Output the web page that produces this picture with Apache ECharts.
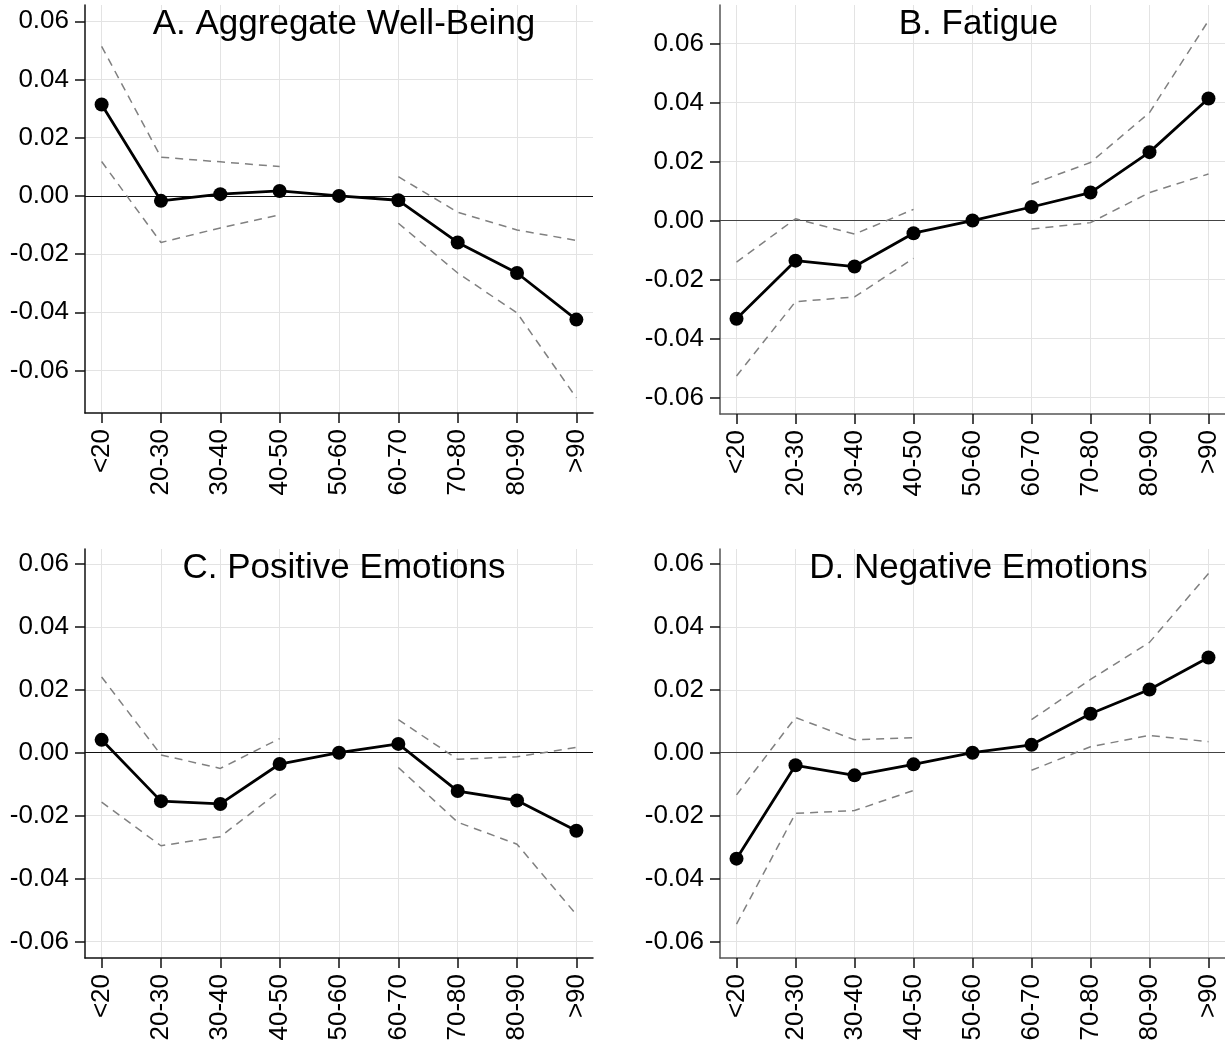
<!DOCTYPE html>
<html>
<head>
<meta charset="utf-8">
<script src="https://cdn.jsdelivr.net/npm/echarts@6/dist/echarts.min.js"></script>
<style>
  html, body { margin: 0; padding: 0; background: #fff; }
  #chart { width: 1225px; height: 1044px; }
</style>
</head>
<body>
<div id="chart"></div>
<script>
// Age groups on the horizontal axis (50-60 is the reference group)
const ageGroups = ['<20', '20-30', '30-40', '40-50', '50-60', '60-70', '70-80', '80-90', '>90'];
const yTicks = [-0.06, -0.04, -0.02, 0.00, 0.02, 0.04, 0.06];

// Panel titles
const panelTitles = ['A. Aggregate Well-Being', 'B. Fatigue', 'C. Positive Emotions', 'D. Negative Emotions'];

// A. Aggregate well-being: estimate, upper and lower confidence bounds
const wellBeingEst = [0.0314, -0.0017, 0.0006, 0.0017, 0, -0.0015, -0.0160, -0.0265, -0.0425];
const wellBeingHi  = [0.0514, 0.0133, 0.0117, 0.0101, null, 0.0066, -0.0056, -0.0117, -0.0153];
const wellBeingLo  = [0.0118, -0.0160, -0.0110, -0.0065, null, -0.0094, -0.0265, -0.0402, -0.0694];

// B. Fatigue
const fatigueEst = [-0.0333, -0.0136, -0.0156, -0.0043, 0, 0.0046, 0.0095, 0.0232, 0.0414];
const fatigueHi  = [-0.0141, 0.0006, -0.0046, 0.0038, null, 0.0123, 0.0197, 0.0366, 0.0678];
const fatigueLo  = [-0.0527, -0.0275, -0.0259, -0.0128, null, -0.0029, -0.0007, 0.0095, 0.0158];

// C. Positive emotions
const positiveEst = [0.0041, -0.0154, -0.0163, -0.0036, 0, 0.0028, -0.0122, -0.0152, -0.0248];
const positiveHi  = [0.0241, -0.0007, -0.0050, 0.0045, null, 0.0105, -0.0021, -0.0013, 0.0017];
const positiveLo  = [-0.0157, -0.0296, -0.0267, -0.0122, null, -0.0047, -0.0221, -0.0291, -0.0515];

// D. Negative emotions
const negativeEst = [-0.0337, -0.0040, -0.0072, -0.0037, 0, 0.0025, 0.0124, 0.0201, 0.0303];
const negativeHi  = [-0.0134, 0.0112, 0.0041, 0.0048, null, 0.0105, 0.0233, 0.0351, 0.0570];
const negativeLo  = [-0.0545, -0.0193, -0.0184, -0.0120, null, -0.0056, 0.0019, 0.0055, 0.0035];

const panels = [
  { est: wellBeingEst, hi: wellBeingHi, lo: wellBeingLo },
  { est: fatigueEst,   hi: fatigueHi,   lo: fatigueLo },
  { est: positiveEst,  hi: positiveHi,  lo: positiveLo },
  { est: negativeEst,  hi: negativeHi,  lo: negativeLo }
];

// Layout of the four plot areas and their vertical ranges
const layout = [
  { left: 85,  top: 5,   width: 508, height: 408, yMin: -0.0746, yMax: 0.0656, axis: '#111' },
  { left: 720, top: 5,   width: 509, height: 409, yMin: -0.0656, yMax: 0.0731, axis: '#555' },
  { left: 85,  top: 549, width: 508, height: 409, yMin: -0.0653, yMax: 0.0648, axis: '#111' },
  { left: 720, top: 549, width: 509, height: 409, yMin: -0.0653, yMax: 0.0648, axis: '#555' }
];

const FONT = '"Liberation Sans", Arial, sans-serif';
const idx = ageGroups.map((_, i) => i);
const toPoints = arr => arr.map((v, i) => [i, v]);

const option = {
  animation: false,
  backgroundColor: '#fff',
  title: [],
  grid: [],
  xAxis: [],
  yAxis: [],
  series: []
};

layout.forEach((g, k) => {
  option.grid.push({ left: g.left, top: g.top, width: g.width, height: g.height, containLabel: false });

  option.title.push({
    text: panelTitles[k],
    left: g.left + g.width / 2 - (k % 2 === 1 ? 1 : 0),
    top: g.top - 3,
    textAlign: 'center',
    textStyle: { fontFamily: FONT, fontSize: 35, fontWeight: 'normal', color: '#000' }
  });

  option.xAxis.push({
    type: 'value',
    gridIndex: k,
    min: -0.28,
    max: 8.28,
    axisLine: { show: true, onZero: false, lineStyle: { color: g.axis, width: 1.5 } },
    axisTick: { show: true, customValues: idx, length: 10, lineStyle: { color: '#111', width: 1.5 } },
    axisLabel: {
      show: true,
      customValues: idx,
      rotate: 90,
      margin: 16,
      fontFamily: FONT,
      fontSize: 26,
      color: '#000',
      formatter: v => ageGroups[Math.round(v)]
    },
    splitLine: { show: true, lineStyle: { color: '#e3e3e3', width: 1 } }
  });

  option.yAxis.push({
    type: 'value',
    gridIndex: k,
    min: g.yMin,
    max: g.yMax,
    axisLine: { show: true, onZero: false, lineStyle: { color: g.axis, width: 1.5 } },
    axisTick: { show: true, customValues: yTicks, length: 10, lineStyle: { color: '#111', width: 1.5 } },
    axisLabel: {
      show: true,
      customValues: yTicks,
      margin: 16,
      fontFamily: FONT,
      fontSize: 26,
      color: '#000',
      formatter: v => v.toFixed(2)
    },
    splitLine: { show: true, lineStyle: { color: '#e3e3e3', width: 1 } }
  });

  const p = panels[k];
  const dashed = (data) => ({
    type: 'line',
    xAxisIndex: k,
    yAxisIndex: k,
    data: toPoints(data),
    connectNulls: false,
    showSymbol: false,
    symbol: 'none',
    silent: true,
    z: 2,
    lineStyle: { color: '#808080', width: 1.5, type: [8, 6] }
  });
  option.series.push(dashed(p.hi));
  option.series.push(dashed(p.lo));
  option.series.push({
    type: 'line',
    xAxisIndex: k,
    yAxisIndex: k,
    data: toPoints(p.est),
    symbol: 'circle',
    symbolSize: 14,
    z: 4,
    silent: true,
    itemStyle: { color: '#000' },
    lineStyle: { color: '#000', width: 2.8 },
    markLine: {
      silent: true,
      symbol: 'none',
      z: 1,
      label: { show: false },
      lineStyle: { color: g.axis === '#111' ? '#111' : '#444', width: 1.2, type: 'solid' },
      data: [{ yAxis: 0 }]
    }
  });
});

const chart = echarts.init(document.getElementById('chart'), null, { renderer: 'canvas' });
chart.setOption(option);
</script>
</body>
</html>
